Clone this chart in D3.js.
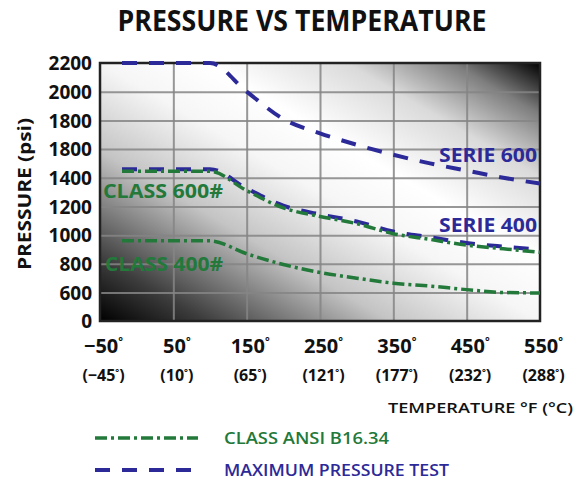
<html lang="en">
<head>
<meta charset="UTF-8">
<title>Pressure vs Temperature</title>
<style>
  body { margin: 0; background: #fff; }
  text { font-family: "Open Sans", sans-serif; }
</style>
</head>
<body>
<script src="https://d3js.org/d3.v7.min.js"></script>
<svg id="chart"></svg>
<script>
    // data (temperature in °F, pressure in psi)
    var tempF = [-20, 100, 150, 200, 250, 300, 350, 400, 450, 500, 550];
    var serie600 = [2200, 2200, 2000, 1810, 1710, 1630, 1560, 1500, 1450, 1400, 1360];
    var serie400 = [1460, 1460, 1325, 1205, 1145, 1095, 1025, 985, 945, 920, 900];
    var class600 = [1445, 1445, 1310, 1190, 1130, 1080, 1010, 970, 930, 905, 880];
    var class400 = [960, 960, 870, 795, 740, 700, 665, 645, 620, 600, 590];

    var xTicks = [-50, 50, 150, 250, 350, 450, 550];
    var xTickC = ["(\u221245", "(10", "(65", "(121", "(177", "(232", "(288"];
    var yTicks = [0, 600, 800, 1000, 1200, 1400, 1600, 1800, 2000, 2200];
    var yTickLabels = ["0", "600", "800", "1000", "1200", "1400", "1800", "1800", "2000", "2200"];

    var blue = "#2c2a98", green = "#22793a";
    var W = 587, H = 480;
    // plot box (note: "top" is reserved on window, so prefixed names)
    var pLeft = 100, pRight = 540, pTop = 63, pBottom = 321;

    var svg = d3.select("#chart").attr("width", W).attr("height", H);

    var x = d3.scaleLinear().domain([-50, 550]).range([pLeft, pRight]);
    // y axis jumps from 0 to 600 in one step
    var y = d3.scaleLinear().domain([0, 600, 2200]).range([pBottom, 292.5, pTop]);

    // title
    svg.append("text")
        .attr("x", 302).attr("y", 31)
        .attr("text-anchor", "middle")
        .attr("textLength", 369).attr("lengthAdjust", "spacingAndGlyphs")
        .style("font-size", "28px").style("font-weight", 700).style("fill", "#111")
        .text("PRESSURE VS TEMPERATURE");

    // gradient background of the plot
    var defs = svg.append("defs");
    var grad = defs.append("linearGradient").attr("id", "bg")
        .attr("x1", 0).attr("y1", 1).attr("x2", 1).attr("y2", 0);
    [[0, "#000"], [0.12, "#3c3c3c"], [0.33, "#c4c4c4"], [0.5, "#f6f6f6"], [0.62, "#ffffff"],
     [0.78, "#dadada"], [0.9, "#7e7e7e"], [1, "#000"]].forEach(function(s) {
        grad.append("stop").attr("offset", s[0]).attr("stop-color", s[1]);
    });
    svg.append("rect")
        .attr("x", pLeft).attr("y", pTop)
        .attr("width", pRight - pLeft).attr("height", pBottom - pTop)
        .attr("fill", "url(#bg)");

    // grid, drawn with long axis ticks
    var gx = svg.append("g")
        .attr("transform", `translate(0,${pBottom})`)
        .call(d3.axisBottom(x).tickValues(xTicks.slice(1, -1))
            .tickSize(-(pBottom - pTop)).tickFormat(""));
    var gy = svg.append("g")
        .attr("transform", `translate(${pLeft},0)`)
        .call(d3.axisLeft(y).tickValues(yTicks.slice(1, -1))
            .tickSize(-(pRight - pLeft)).tickFormat(""));
    [gx, gy].forEach(function(g) {
        g.select(".domain").remove();
        g.selectAll(".tick line")
            .attr("stroke", "#858585").attr("stroke-opacity", 0.85).attr("stroke-width", 2);
    });

    svg.append("rect")
        .attr("x", pLeft).attr("y", pTop)
        .attr("width", pRight - pLeft).attr("height", pBottom - pTop)
        .attr("fill", "none").attr("stroke", "#222").attr("stroke-width", 2.5);

    // y axis
    var yAxis = svg.append("g")
        .attr("transform", `translate(${pLeft},0)`)
        .call(d3.axisLeft(y).tickValues(yTicks)
            .tickFormat((d, i) => yTickLabels[i]).tickSize(0).tickPadding(8));
    yAxis.select(".domain").remove();
    yAxis.selectAll("text")
        .attr("dy", "0.36em")
        .style("font-family", "'Open Sans', sans-serif")
        .style("font-size", "19px").style("font-weight", 700).style("fill", "#111");

    svg.append("text")
        .attr("transform", "translate(31,194) rotate(-90)")
        .attr("text-anchor", "middle")
        .attr("textLength", 152).attr("lengthAdjust", "spacingAndGlyphs")
        .style("font-size", "18px").style("font-weight", 700).style("fill", "#111")
        .text("PRESSURE (psi)");

    // x axis: °F on the first row, °C under it
    var xAxis = svg.append("g")
        .attr("transform", `translate(0,${pBottom})`)
        .call(d3.axisBottom(x).tickValues(xTicks).tickSize(0).tickFormat(""));
    xAxis.select(".domain").remove();
    var ticks = xAxis.selectAll(".tick");
    ticks.select("text").remove();
    var t1 = ticks.append("text")
        .attr("x", 3).attr("y", 32)
        .attr("text-anchor", "middle")
        .style("font-family", "'Open Sans', sans-serif")
        .style("font-size", "20px").style("font-weight", 700).style("fill", "#111");
    t1.append("tspan").text(d => d < 0 ? "\u2212" + Math.abs(d) : d);
    t1.append("tspan").attr("dy", -8).style("font-size", "11px").text("\u00b0");
    var t2 = ticks.append("text")
        .attr("x", 3).attr("y", 60)
        .attr("text-anchor", "middle")
        .style("font-family", "'Open Sans', sans-serif")
        .style("font-size", "16px").style("font-weight", 700).style("fill", "#111");
    t2.append("tspan").text((d, i) => xTickC[i]);
    t2.append("tspan").attr("dy", -6).style("font-size", "9px").text("\u00b0");
    t2.append("tspan").attr("dy", 6).text(")");

    svg.append("text")
        .attr("x", 573).attr("y", 413)
        .attr("text-anchor", "end")
        .attr("textLength", 185).attr("lengthAdjust", "spacingAndGlyphs")
        .style("font-size", "15px").style("font-weight", 600).style("fill", "#111")
        .text("TEMPERATURE \u00b0F  (\u00b0C)");

    // curves
    var line = d3.line()
        .x((d, i) => x(tempF[i]))
        .y(d => y(d))
        .curve(d3.curveMonotoneX);

    var blueDash = "15,12", greenDash = "12,4,3,4";
    [serie600, serie400].forEach(function(s) {
        svg.append("path").attr("d", line(s))
            .attr("fill", "none").attr("stroke", blue)
            .attr("stroke-width", 4).attr("stroke-dasharray", blueDash);
    });
    [class600, class400].forEach(function(s) {
        svg.append("path").attr("d", line(s))
            .attr("fill", "none").attr("stroke", green)
            .attr("stroke-width", 3.5).attr("stroke-dasharray", greenDash);
    });

    // labels on curves
    var labels = [
        {t: "SERIE 600", x: 439, y: 162, w: 98, c: blue},
        {t: "SERIE 400", x: 439, y: 232, w: 98, c: blue},
        {t: "CLASS 600#", x: 103, y: 198, w: 120, c: green},
        {t: "CLASS 400#", x: 105, y: 271, w: 118, c: green}
    ];
    svg.selectAll("text.lab").data(labels).enter().append("text")
        .attr("class", "lab")
        .attr("x", d => d.x).attr("y", d => d.y)
        .attr("textLength", d => d.w).attr("lengthAdjust", "spacingAndGlyphs")
        .style("font-size", "20px").style("font-weight", 700)
        .style("fill", d => d.c)
        .text(d => d.t);

    // legend
    var legend = [
        {t: "CLASS ANSI B16.34", c: green, dash: greenDash, sw: 3.5, y: 438, w: 165},
        {t: "MAXIMUM PRESSURE TEST", c: blue, dash: blueDash, sw: 4, y: 470, w: 225}
    ];
    var lg = svg.selectAll("g.lg").data(legend).enter().append("g").attr("class", "lg");
    lg.append("line")
        .attr("x1", 95).attr("x2", 198)
        .attr("y1", d => d.y).attr("y2", d => d.y)
        .attr("stroke", d => d.c).attr("stroke-width", d => d.sw)
        .attr("stroke-dasharray", d => d.dash);
    lg.append("text")
        .attr("x", 224).attr("y", d => d.y + 6)
        .attr("textLength", d => d.w).attr("lengthAdjust", "spacingAndGlyphs")
        .style("font-size", "17px").style("font-weight", 600)
        .style("fill", d => d.c)
        .text(d => d.t);
</script>
</body>
</html>
